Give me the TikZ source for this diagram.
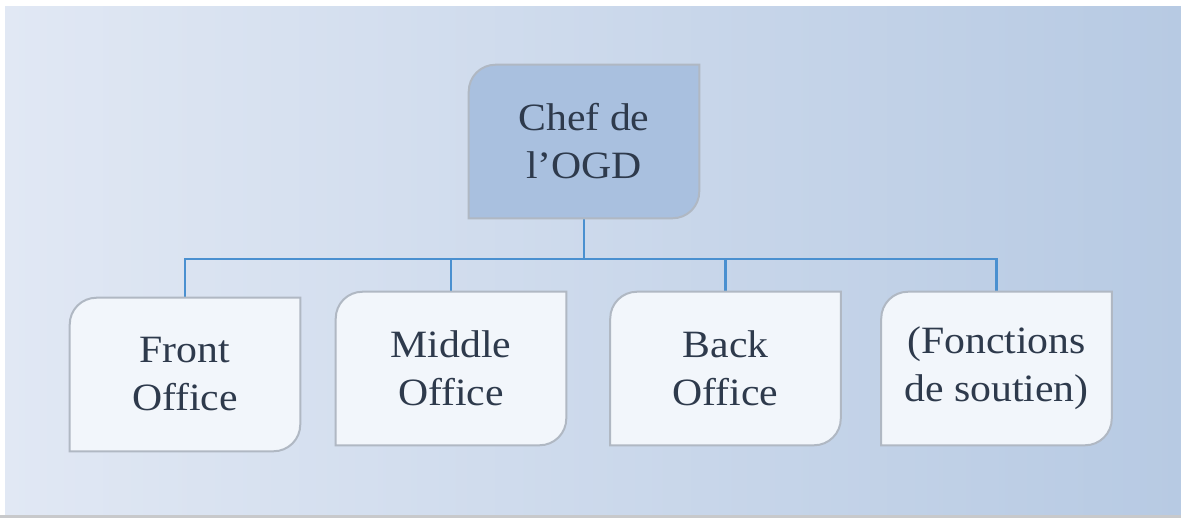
\documentclass[tikz,border=0pt]{standalone}
\usepackage{fontspec}
\setmainfont[FakeStretch=1.08]{Liberation Serif}
\definecolor{bgL}{RGB}{225,232,244}
\definecolor{bgR}{RGB}{183,202,227}
\definecolor{topfill}{RGB}{169,192,223}
\definecolor{childfill}{RGB}{242,246,251}
\definecolor{edge}{RGB}{176,184,195}
\definecolor{conn}{RGB}{74,144,208}
\definecolor{txt}{RGB}{46,58,76}
\definecolor{bottombar}{RGB}{200,201,203}
\newcommand\diagshape[2]{%
  \draw[boxline,fill=#2] ([yshift=-20pt]#1.north west) arc[start angle=180,end angle=90,radius=20pt]
    -- (#1.north east) -- ([yshift=20pt]#1.south east) arc[start angle=0,end angle=-90,radius=20pt]
    -- (#1.south west) -- cycle;}
\tikzset{
  orgbox/.style={minimum width=172.5pt,minimum height=114.75pt,inner sep=0pt,align=center,
    text=txt,font=\fontsize{29}{36}\selectfont},
  boxline/.style={draw=edge,line width=1.5pt},
  connline/.style={draw=conn,line width=1.9pt}
}
\begin{document}
\begin{tikzpicture}[x=0.75pt,y=-0.75pt]
\useasboundingbox (0,0) rectangle (1181,518);
\fill[white] (0,0) rectangle (1181,518);
\shade[left color=bgL,right color=bgR] (5,6) rectangle (1181,515);
\fill[bottombar] (0,515) rectangle (1181,518);
\node[orgbox] (chef) at (584,141.5) {};
\node[orgbox] (front) at (185,374.5) {};
\node[orgbox] (middle) at (451,368.5) {};
\node[orgbox] (back) at (725.5,368.5) {};
\node[orgbox] (fonc) at (996.5,368.5) {};
\coordinate (bus) at (584,259);
\draw[connline] (chef.south) -- (bus);
\draw[connline] (bus) -| (front.north);
\draw[connline] (bus) -| (middle.north);
\draw[connline] (bus) -| (back.north);
\draw[connline] (bus) -| (fonc.north);
\diagshape{chef}{topfill}
\diagshape{front}{childfill}
\diagshape{middle}{childfill}
\diagshape{back}{childfill}
\diagshape{fonc}{childfill}
\node[orgbox] at (chef) {Chef de\\l’OGD};
\node[orgbox] at (front) {Front\\Office};
\node[orgbox] at (middle) {Middle\\Office};
\node[orgbox] at (back) {Back\\Office};
\node[orgbox] at (fonc) {(Fonctions\\de soutien)};
\end{tikzpicture}
\end{document}
